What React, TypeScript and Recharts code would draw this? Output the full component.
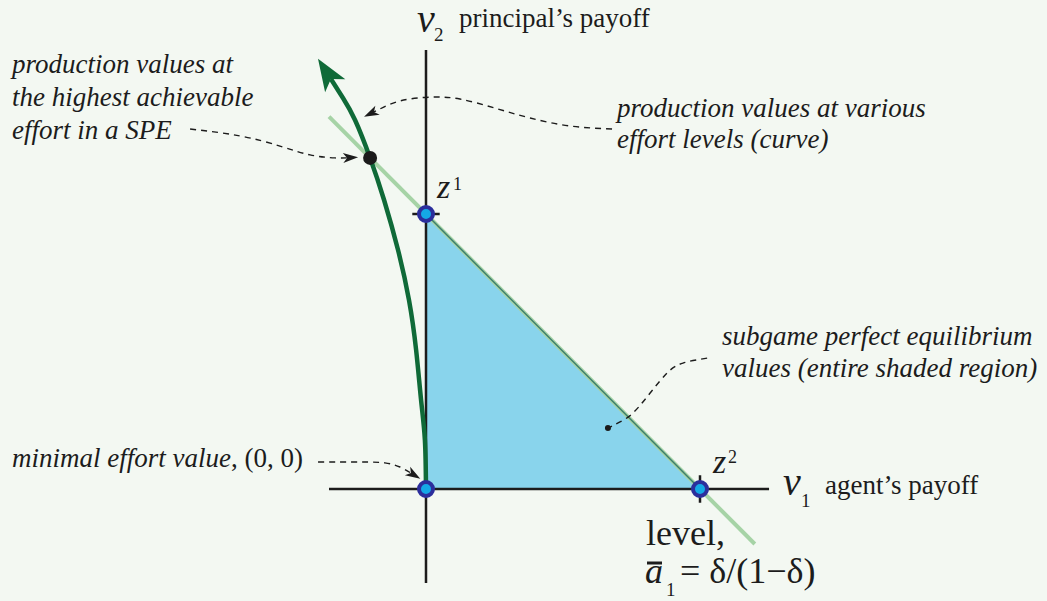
import React from 'react';
import {
  ComposedChart,
  XAxis,
  YAxis,
  Line,
  Area,
  ReferenceDot,
} from 'recharts';

// Payoff space: v1 (agent) on x, v2 (principal) on y.
const X_DOMAIN: [number, number] = [-1.5547, 2.2664];
const Y_DOMAIN: [number, number] = [-0.4073, 1.7782];

// Axis extents
const hAxis = [
  { x: -0.354, y: 0 },
  { x: 1.252, y: 0 },
];
const vAxis = [
  { x: 0, y: -0.342 },
  { x: 0, y: 1.596 },
];

// Level line v1 + v2 = 1
const levelLine = [
  { x: -0.354, y: 1.354 },
  { x: 1.2, y: -0.2 },
];

// Subgame perfect equilibrium region (triangle between z1, z2 and origin)
const speRegion = [
  { x: 0, y: 1 },
  { x: 1, y: 0 },
];

// Production values at various effort levels
const productionCurve = [
  { x: 0, y: 0 },
  { x: -0.004, y: 0.178 },
  { x: -0.018, y: 0.324 },
  { x: -0.036, y: 0.505 },
  { x: -0.062, y: 0.687 },
  { x: -0.102, y: 0.869 },
  { x: -0.153, y: 1.051 },
  { x: -0.204, y: 1.204 },
  { x: -0.259, y: 1.342 },
  { x: -0.303, y: 1.422 },
  { x: -0.347, y: 1.491 },
];

// Key points
const zPoints = [
  { x: 0, y: 0 },
  { x: 0, y: 1 },
  { x: 1, y: 0 },
];
const speMax = { x: -0.204, y: 1.204 };
const regionMark = { x: 0.664, y: 0.222 };

// Tick marks at z1 and z2
const tickZ1 = [
  { x: -0.05, y: 1 },
  { x: 0.05, y: 1 },
];
const tickZ2 = [
  { x: 1, y: -0.05 },
  { x: 1, y: 0.05 },
];

// Annotation leaders
const leaderSpe = [
  { x: -0.861, y: 1.309 },
  { x: -0.679, y: 1.284 },
  { x: -0.533, y: 1.247 },
  { x: -0.423, y: 1.215 },
  { x: -0.332, y: 1.204 },
  { x: -0.288, y: 1.204 },
];
const leaderCurve = [
  { x: 0.679, y: 1.309 },
  { x: 0.526, y: 1.32 },
  { x: 0.38, y: 1.349 },
  { x: 0.252, y: 1.385 },
  { x: 0.124, y: 1.418 },
  { x: 0.015, y: 1.425 },
  { x: -0.095, y: 1.411 },
  { x: -0.168, y: 1.382 },
  { x: -0.19, y: 1.371 },
];
const leaderRegion = [
  { x: 1.026, y: 0.476 },
  { x: 0.938, y: 0.458 },
  { x: 0.88, y: 0.422 },
  { x: 0.818, y: 0.349 },
  { x: 0.755, y: 0.276 },
  { x: 0.708, y: 0.244 },
  { x: 0.672, y: 0.225 },
];
const leaderOrigin = [
  { x: -0.394, y: 0.098 },
  { x: -0.241, y: 0.098 },
  { x: -0.15, y: 0.095 },
  { x: -0.095, y: 0.08 },
  { x: -0.055, y: 0.058 },
];

const BG = '#f3f8f2';
const INK = '#1c1c1c';

const plain = { dot: false, activeDot: false, isAnimationActive: false } as const;

type TProps = {
  x: number;
  y: number;
  size: number;
  italic?: boolean;
  children: React.ReactNode;
};

// Serif label text
function T({ x, y, size, italic, children }: TProps) {
  return (
    <text
      x={x}
      y={y}
      fill={INK}
      style={{
        fontFamily: 'Liberation Serif',
        fontSize: size,
        fontStyle: italic ? 'italic' : 'normal',
      }}
    >
      {children}
    </text>
  );
}

export default function App() {
  return (
    <div
      style={{
        position: 'fixed',
        left: 0,
        top: 0,
        width: 1047,
        height: 601,
        background: BG,
        overflow: 'hidden',
      }}
    >
      <svg width={0} height={0} style={{ position: 'absolute' }}>
        <defs>
          <marker
            id="bigArrow"
            markerUnits="userSpaceOnUse"
            viewBox="-10 -14 36 28"
            markerWidth={36}
            markerHeight={28}
            refX={0}
            refY={0}
            orient="auto"
          >
            <path d="M24,0 L-8,-12 L0,0 L-8,12 Z" fill="#0f6a38" />
          </marker>
          <marker
            id="smallArrow"
            markerUnits="userSpaceOnUse"
            viewBox="-6 -6 20 12"
            markerWidth={20}
            markerHeight={12}
            refX={0}
            refY={0}
            orient="auto"
          >
            <path d="M11,0 L-4,-5 L0,0 L-4,5 Z" fill={INK} />
          </marker>
        </defs>
      </svg>
      <ComposedChart
        width={1047}
        height={601}
        margin={{ top: 0, right: 0, bottom: 0, left: 0 }}
      >
        <XAxis type="number" dataKey="x" domain={X_DOMAIN} allowDataOverflow hide />
        <YAxis type="number" dataKey="y" domain={Y_DOMAIN} allowDataOverflow hide />

        <Area
          data={speRegion}
          dataKey="y"
          type="linear"
          baseValue={0}
          fill="#89d4ec"
          fillOpacity={1}
          stroke="none"
          {...plain}
        />
        <Line data={levelLine} dataKey="y" type="linear" stroke="#a6d3a6" strokeWidth={4} {...plain} />
        <Line data={speRegion} dataKey="y" type="linear" stroke="#3d7f6c" strokeWidth={1.5} {...plain} />
        <Line data={hAxis} dataKey="y" type="linear" stroke={INK} strokeWidth={2.5} {...plain} />
        <Line data={vAxis} dataKey="y" type="linear" stroke={INK} strokeWidth={2.5} {...plain} />
        <Line data={tickZ1} dataKey="y" type="linear" stroke={INK} strokeWidth={2.5} {...plain} />
        <Line data={tickZ2} dataKey="y" type="linear" stroke={INK} strokeWidth={2.5} {...plain} />
        <Line
          data={productionCurve}
          dataKey="y"
          type="natural"
          stroke="#0f6a38"
          strokeWidth={4.5}
          markerEnd="url(#bigArrow)"
          {...plain}
        />

        {[leaderSpe, leaderCurve, leaderOrigin].map((d, i) => (
          <Line
            key={`lead${i}`}
            data={d}
            dataKey="y"
            type="natural"
            stroke={INK}
            strokeWidth={1.4}
            strokeDasharray="6 5"
            markerEnd="url(#smallArrow)"
            {...plain}
          />
        ))}
        <Line
          data={leaderRegion}
          dataKey="y"
          type="natural"
          stroke={INK}
          strokeWidth={1.4}
          strokeDasharray="6 5"
          {...plain}
        />

        {zPoints.map((p, i) => (
          <ReferenceDot
            key={`z${i}`}
            x={p.x}
            y={p.y}
            r={7}
            fill="#14a8e6"
            stroke="#2b2e9c"
            strokeWidth={4}
            ifOverflow="visible"
          />
        ))}
        <ReferenceDot x={speMax.x} y={speMax.y} r={7} fill="#1b1b1b" stroke="none" />
        <ReferenceDot x={regionMark.x} y={regionMark.y} r={3} fill="#1b1b1b" stroke="none" />
      </ComposedChart>

      <svg
        width={1047}
        height={601}
        style={{ position: 'absolute', left: 0, top: 0, pointerEvents: 'none' }}
      >
        {/* axis titles */}
        <T x={417} y={32} size={40} italic>v</T>
        <T x={434} y={41} size={19}>2</T>
        <T x={459} y={27} size={27}>principal’s payoff</T>

        <T x={783} y={495} size={40} italic>v</T>
        <T x={801} y={507} size={19}>1</T>
        <T x={825} y={494} size={27}>agent’s payoff</T>

        {/* endpoint labels */}
        <T x={437} y={198} size={34} italic>z</T>
        <T x={453} y={190} size={18}>1</T>
        <T x={713} y={473} size={34} italic>z</T>
        <T x={728} y={463} size={18}>2</T>

        {/* level line label */}
        <T x={646} y={545} size={36}>level,</T>
        <T x={645} y={583} size={36} italic>a</T>
        <line x1={647} y1={563} x2={662} y2={563} stroke={INK} strokeWidth={3} />
        <T x={666} y={596} size={19}>1</T>
        <T x={680} y={583} size={36}>= δ/(1−δ)</T>

        {/* annotations */}
        <T x={12} y={73} size={27} italic>production values at</T>
        <T x={12} y={106} size={27} italic>the highest achievable</T>
        <T x={12} y={139} size={27} italic>effort in a SPE</T>

        <T x={617} y={117} size={27} italic>production values at various</T>
        <T x={617} y={148} size={27} italic>effort levels (curve)</T>

        <T x={722} y={345} size={27} italic>subgame perfect equilibrium</T>
        <T x={722} y={377} size={27} italic>values (entire shaded region)</T>

        <T x={12} y={467} size={27} italic>
          minimal effort value<tspan style={{ fontStyle: 'normal' }}>, (0, 0)</tspan>
        </T>
      </svg>
    </div>
  );
}
